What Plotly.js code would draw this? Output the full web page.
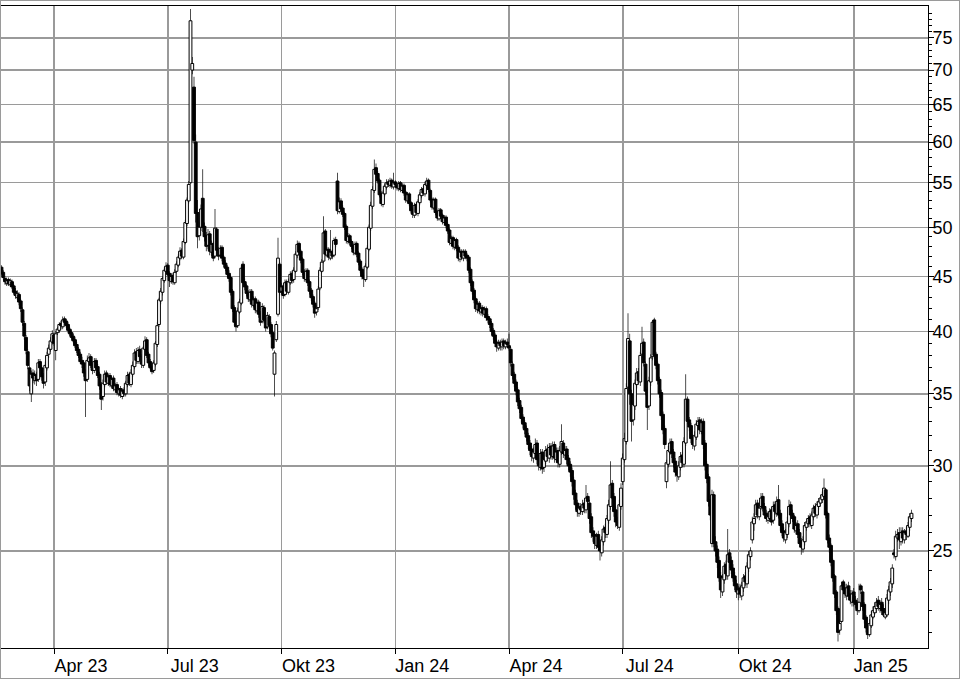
<!DOCTYPE html>
<html>
<head>
<meta charset="utf-8">
<script src="https://cdn.plot.ly/plotly-3.0.1.min.js"></script>
<style>
html,body{margin:0;padding:0;background:#fff;}
#frame{position:absolute;left:0;top:0;width:958px;height:677px;border:1px solid #9a9a9a;}
#chart{width:958px;height:677px;}
</style>
</head>
<body>
<div id="frame"><div id="chart"></div></div>
<script>
// first trading day of the series; one candle per weekday
const startDate = '2023-02-20';

const openP = [
45.9,45.4,44.8,44.3,44.7,44.2,44.5,44.1,43.6,43.0,
43.3,42.7,41.9,40.7,39.5,38.3,37.0,35.0,36.6,36.0,
36.5,36.1,37.5,37.0,36.4,35.9,37.0,38.1,38.5,39.1,
39.7,38.4,39.9,40.1,40.7,40.4,41.1,40.9,40.6,40.2,
39.9,39.6,39.3,38.9,38.5,38.1,37.6,37.4,36.6,36.1,
37.5,37.9,37.3,36.8,37.6,37.1,36.5,35.7,34.8,35.7,
36.6,35.8,36.4,35.6,36.2,35.3,35.7,35.0,35.4,34.8,
35.3,35.0,35.7,36.5,35.7,36.5,37.1,38.3,37.5,38.5,
37.9,37.2,38.5,39.3,38.1,37.5,37.1,36.8,37.3,38.9,
40.6,42.7,43.5,44.6,45.5,46.1,45.3,44.5,45.1,44.4,
45.5,46.1,46.8,47.6,46.9,48.4,50.4,52.9,55.0,70.0,
67.5,60.0,51.6,49.1,50.0,53.2,50.1,49.1,48.1,49.3,
47.4,48.3,47.0,49.8,47.7,47.1,47.9,46.9,46.3,45.9,
45.3,44.9,43.6,42.1,40.9,40.5,41.7,42.5,46.2,44.5,
44.1,43.5,42.8,43.6,42.3,42.9,41.8,42.6,41.6,40.9,
42.1,41.1,40.4,41.3,40.6,39.9,36.5,39.3,41.5,46.2,
43.6,44.1,43.3,44.5,43.5,44.4,45.3,44.7,45.5,47.1,
48.3,47.5,46.7,45.5,44.7,45.6,44.5,43.7,43.1,42.5,
41.7,42.1,43.9,45.5,46.5,49.6,47.1,47.7,46.8,47.5,
47.1,48.7,55.2,51.7,52.9,52.1,51.5,50.1,48.5,49.1,
48.5,48.1,47.3,48.3,47.3,46.5,45.7,45.1,44.7,45.9,
47.7,49.9,52.3,54.1,56.8,56.1,55.3,53.7,52.5,53.7,
54.5,55.1,54.7,55.3,54.5,55.1,54.7,54.3,55.0,54.1,
54.7,53.9,52.9,53.7,52.7,51.9,51.3,52.5,51.5,52.7,
53.5,54.3,53.7,54.7,55.3,54.1,53.1,52.1,53.1,51.7,
50.9,51.9,51.3,50.5,51.1,50.3,49.7,48.3,48.9,47.9,
48.7,47.9,46.7,47.5,46.8,47.5,47.1,46.9,45.7,44.5,
43.7,42.9,41.9,42.5,41.7,42.1,41.5,42.0,41.3,41.1,
40.7,40.1,39.7,39.1,38.6,39.1,38.7,39.2,38.7,39.1,
38.8,38.5,37.3,36.5,35.9,35.3,34.5,34.0,33.3,32.9,
32.5,32.0,31.5,31.1,30.5,30.8,31.5,30.5,29.9,30.9,
29.9,30.3,31.1,30.5,31.3,30.6,31.4,30.4,31.0,30.1,
30.9,31.5,30.7,31.1,30.5,30.1,29.7,29.1,28.3,27.7,
27.1,27.5,27.2,27.7,27.3,28.1,27.7,26.9,26.1,25.9,
25.3,25.9,25.3,24.9,25.5,26.3,25.9,26.7,27.5,28.9,
28.1,27.3,26.7,26.3,27.5,29.0,30.4,31.6,35.5,39.2,
35.0,33.1,34.1,35.7,36.7,35.9,38.1,39.1,37.3,35.3,
34.1,35.9,37.9,41.0,38.1,37.3,36.1,35.1,33.5,32.5,
29.0,30.1,30.9,31.6,30.9,30.3,29.7,29.3,29.9,30.7,
30.1,31.5,34.6,33.1,32.7,31.9,31.3,31.9,32.7,33.1,
32.3,33.0,31.5,30.1,29.3,27.9,25.4,28.2,25.5,25.1,
24.5,23.7,22.9,23.5,24.3,23.7,24.9,24.5,24.1,23.7,
23.3,22.8,23.1,22.7,23.1,23.7,23.3,24.1,24.7,25.6,
26.5,26.9,27.7,26.9,27.5,28.1,27.5,27.1,26.7,26.8,
27.3,26.7,27.6,27.1,27.9,27.1,26.5,26.1,25.6,25.9,
26.5,27.6,27.1,26.9,26.1,26.5,26.0,25.5,25.1,25.5,
26.3,26.5,26.9,26.4,26.9,27.5,27.0,27.5,27.7,27.9,
28.1,28.5,27.1,25.7,25.3,24.5,23.7,22.9,22.1,21.1,
21.5,23.4,23.1,22.7,23.2,22.8,22.4,22.9,22.5,22.4,
22.0,23.2,22.9,22.3,21.7,21.3,20.9,21.3,21.7,21.9,
22.1,22.5,22.1,22.4,22.1,21.7,21.8,22.5,22.9,23.3,
24.9,24.7,25.7,26.0,25.5,26.1,25.6,26.1,25.8,26.3,
26.8
];

const highP = [
46.1,45.6,45.0,44.9,44.9,44.8,44.7,44.3,43.9,43.7,
43.5,42.9,42.1,40.9,39.7,38.5,37.2,36.8,36.9,36.8,
36.7,37.7,37.7,37.2,36.6,37.5,38.3,38.9,39.5,40.1,
39.9,40.0,40.4,40.8,40.9,41.3,41.3,41.1,40.8,40.4,
40.1,39.8,39.5,39.1,38.7,38.3,37.9,37.6,36.9,38.0,
38.2,38.1,37.5,37.8,37.8,37.3,36.7,35.9,36.1,36.8,
36.8,36.5,36.6,36.3,36.4,35.8,35.9,35.5,35.6,35.4,
35.5,36.0,36.7,36.7,36.9,37.5,38.5,38.6,38.7,38.8,
38.1,38.8,39.6,39.5,38.3,37.7,37.3,37.6,39.2,40.8,
43.0,43.9,45.0,45.9,46.4,46.3,45.5,45.3,45.3,45.7,
46.5,47.2,47.9,47.8,48.8,50.8,53.3,55.2,79.8,72.0,
69.0,61.0,53.0,50.6,52.5,56.6,50.5,49.5,49.8,49.6,
48.6,48.5,52.0,50.0,47.9,48.1,48.1,47.1,46.6,46.1,
45.6,45.1,43.8,42.3,41.1,42.1,42.9,46.1,46.5,44.8,
44.3,43.7,43.8,43.8,43.1,43.1,42.8,42.8,41.8,42.5,
42.3,41.3,41.7,41.5,40.8,40.1,38.4,40.9,48.9,46.4,
44.4,44.3,44.7,44.7,44.8,45.5,45.5,45.9,47.5,48.6,
48.5,47.7,46.9,45.7,45.8,45.8,44.7,43.9,43.3,42.7,
42.3,44.1,45.9,46.7,51.2,49.8,47.9,47.9,49.7,47.7,
48.9,49.0,56.2,53.3,53.2,52.4,51.7,50.3,49.4,49.3,
48.7,48.3,48.5,48.5,47.5,46.7,45.9,45.4,46.3,48.1,
50.3,52.8,54.6,57.8,57.3,56.4,55.5,54.0,54.1,54.9,
55.4,55.4,55.6,55.5,56.2,55.3,55.0,55.2,55.2,54.9,
54.9,54.1,53.9,53.9,52.9,52.1,52.7,52.7,53.1,53.9,
54.5,54.6,55.1,55.6,55.5,54.3,53.3,53.3,53.3,51.9,
52.1,52.1,51.5,51.3,51.3,50.5,49.9,49.1,49.1,48.9,
48.9,48.1,47.7,47.7,47.7,47.7,47.3,47.1,45.9,44.7,
43.9,43.1,42.7,42.7,42.3,42.3,42.2,42.2,41.5,41.3,
40.9,40.3,39.9,39.3,39.3,39.3,39.4,39.4,39.3,39.4,
39.8,38.7,37.5,36.7,36.1,35.5,34.7,34.2,33.5,33.1,
32.7,32.2,31.7,31.3,31.2,31.8,31.7,30.7,31.1,31.1,
30.7,31.3,31.4,31.5,31.5,31.6,31.6,31.2,31.2,31.3,
32.8,31.7,31.3,31.3,30.7,30.3,29.9,29.3,28.5,27.9,
27.7,27.7,27.9,27.9,28.8,28.3,27.9,27.1,26.3,26.1,
26.0,26.1,25.5,25.8,26.4,26.5,27.0,27.9,30.3,29.1,
28.3,27.5,26.9,27.9,28.9,30.8,32.2,35.8,41.6,39.8,
35.3,34.5,36.1,37.0,37.0,38.3,40.4,39.4,37.5,35.5,
36.3,38.1,41.0,41.2,38.3,37.5,36.3,35.3,33.7,32.7,
30.4,31.3,31.8,31.8,31.1,30.5,29.9,30.3,30.9,30.9,
31.9,36.5,34.8,33.3,32.9,32.1,32.3,33.1,33.3,33.3,
33.2,33.2,31.7,30.3,29.5,28.1,28.5,28.4,25.8,25.3,
24.7,23.9,23.8,24.4,24.5,26.2,25.1,24.7,24.3,23.9,
23.5,23.2,23.3,23.4,23.8,23.9,24.4,25.0,25.2,26.9,
27.1,27.9,27.9,27.6,28.3,28.3,27.7,27.3,27.2,27.4,
27.5,27.8,27.8,28.1,28.8,27.3,26.7,26.3,26.2,26.9,
27.9,27.8,27.3,27.0,26.6,26.7,26.2,25.7,25.8,26.6,
26.8,27.0,27.1,27.2,27.6,27.7,27.8,28.0,28.2,28.4,
29.2,28.6,27.2,25.9,25.4,24.6,23.8,23.0,22.2,21.6,
23.4,23.5,23.3,23.3,23.4,23.0,23.0,23.1,22.7,22.6,
23.3,23.3,23.0,22.4,21.8,21.4,21.6,22.0,22.2,22.4,
22.6,22.7,22.5,22.6,22.3,22.1,22.8,23.2,23.6,24.3,
25.1,26.1,26.2,26.3,26.3,26.3,26.2,26.3,26.6,27.1,
27.3
];

const lowP = [
45.1,44.7,44.2,44.1,44.1,44.0,43.8,43.3,42.9,42.8,
42.3,41.7,40.5,39.3,38.1,36.9,35.2,34.4,35.8,35.7,
35.6,35.9,36.8,36.0,35.4,35.6,36.8,37.8,38.3,38.9,
38.8,37.6,39.7,39.9,40.2,40.2,40.6,40.3,39.9,39.6,
39.3,39.0,38.6,38.2,37.8,37.3,37.0,36.3,33.3,35.9,
37.2,37.0,36.5,36.6,36.8,36.2,35.3,33.8,34.5,35.5,
35.7,35.6,35.5,35.4,35.2,35.1,34.9,34.8,34.7,34.6,
34.8,34.8,35.5,35.6,35.5,36.3,36.9,37.3,37.3,37.6,
37.0,37.0,38.3,37.8,37.1,36.8,36.5,36.6,37.1,38.7,
40.4,42.4,43.2,44.4,45.2,45.0,44.0,44.3,44.2,44.2,
45.3,45.9,46.6,46.7,46.7,48.2,50.1,52.6,54.8,69.4,
59.8,50.5,47.8,48.6,49.6,49.5,48.5,47.5,47.7,47.1,
47.0,46.5,46.8,47.3,46.6,46.8,46.5,45.9,45.5,44.9,
44.5,43.2,41.7,40.5,40.0,40.3,41.5,42.3,44.1,43.7,
43.1,42.6,42.6,42.1,42.1,41.6,41.6,41.2,40.5,40.7,
40.7,40.0,40.2,40.2,39.5,38.4,34.8,39.1,41.3,43.2,
43.3,42.9,43.1,43.3,43.3,44.2,44.3,44.4,45.3,46.8,
47.1,46.3,45.1,44.5,44.5,44.1,43.3,42.7,42.1,41.2,
41.4,41.9,43.7,45.3,46.3,47.0,46.9,46.6,46.6,46.7,
46.9,47.9,51.4,51.5,51.7,51.1,49.7,48.3,48.2,48.1,
47.7,47.1,47.1,46.9,46.1,45.3,44.7,44.0,44.5,45.7,
47.5,49.6,52.0,53.8,55.6,54.9,53.3,52.3,52.2,53.4,
54.2,54.5,54.4,54.3,54.2,54.5,54.1,54.0,53.9,53.8,
53.5,52.7,52.6,52.3,51.5,51.0,51.0,51.3,51.2,52.4,
53.2,53.5,53.4,54.4,53.9,52.7,51.9,51.9,51.3,50.7,
50.7,50.9,50.3,50.2,49.9,49.3,48.1,48.0,47.7,47.6,
47.5,46.5,46.4,46.6,46.5,46.7,46.5,45.3,44.1,43.3,
42.5,41.7,41.6,41.5,41.4,41.3,41.2,40.9,40.7,40.3,
39.7,39.3,38.7,38.3,38.4,38.4,38.4,38.5,38.5,38.6,
38.4,37.1,36.1,35.5,34.9,34.1,33.6,32.9,32.5,32.1,
31.6,31.1,30.7,30.3,30.2,30.5,30.1,29.7,29.7,29.5,
29.6,30.1,30.3,30.2,30.4,30.4,30.2,30.2,29.9,29.9,
30.7,30.5,30.4,30.1,29.7,29.3,28.7,27.9,27.3,26.9,
26.9,27.0,27.0,27.1,27.1,27.5,26.5,25.7,25.5,25.1,
25.1,25.0,24.5,24.7,25.3,25.7,25.7,26.5,27.3,27.7,
26.9,26.3,26.2,26.1,27.3,28.8,30.2,31.4,35.2,34.2,
31.6,32.7,33.8,35.4,35.7,35.6,37.8,37.1,34.9,32.4,
33.8,35.6,37.6,37.7,36.9,35.7,34.7,33.1,32.1,31.1,
28.6,29.9,30.7,30.5,29.9,29.3,29.0,29.1,29.7,29.9,
29.9,31.3,32.8,32.3,31.5,31.1,31.0,31.7,32.5,32.1,
32.1,31.1,29.7,28.9,27.5,26.7,25.2,25.2,24.7,24.1,
23.4,22.6,22.7,23.3,23.5,23.5,24.1,23.8,23.4,23.0,
22.6,22.5,22.6,22.5,22.9,23.2,23.1,23.9,24.5,25.4,
26.1,26.7,26.8,26.7,27.3,27.2,26.8,26.6,26.5,26.6,
26.4,26.5,27.0,26.9,26.8,26.1,25.8,25.5,25.4,25.7,
26.3,26.8,26.6,26.0,25.9,25.7,25.2,24.8,24.9,25.3,
26.1,26.3,26.3,26.2,26.7,26.9,26.8,27.3,27.5,27.7,
27.9,26.8,25.4,24.9,24.2,23.4,22.6,21.8,20.6,20.9,
21.4,22.8,22.6,22.5,22.5,22.3,22.2,22.2,22.1,21.8,
21.9,22.8,22.0,21.4,21.0,20.7,20.8,21.2,21.6,21.8,
21.9,22.0,21.9,21.8,21.7,21.6,21.7,22.3,22.7,23.1,
24.6,24.5,25.5,25.1,25.3,25.4,25.4,25.6,25.7,26.1,
26.6
];

const closeP = [
45.3,44.9,44.5,44.6,44.3,44.6,44.0,43.5,43.2,43.4,
42.6,42.0,40.8,39.6,38.4,37.2,35.6,36.5,36.2,36.4,
36.0,37.4,37.0,36.3,35.8,37.2,38.0,38.6,39.2,39.8,
39.0,39.8,40.2,40.6,40.5,41.0,40.8,40.5,40.1,39.8,
39.5,39.2,38.8,38.4,38.0,37.5,37.3,36.6,36.0,37.6,
37.8,37.2,36.8,37.5,37.0,36.4,35.6,34.6,35.8,36.5,
35.9,36.3,35.7,36.1,35.4,35.6,35.1,35.3,34.9,35.2,
35.0,35.8,36.4,35.8,36.6,37.2,38.2,37.6,38.4,37.9,
37.3,38.6,39.2,38.0,37.4,37.0,36.7,37.4,39.0,40.5,
42.8,43.6,44.8,45.6,46.0,45.2,44.6,45.0,44.5,45.4,
46.2,46.9,47.5,47.0,48.5,50.5,53.0,54.8,77.8,71.0,
60.2,51.5,49.0,50.0,52.0,50.0,49.0,48.0,49.2,47.5,
48.2,46.8,49.9,47.6,47.0,47.8,46.8,46.2,45.8,45.2,
44.8,43.5,42.0,40.8,40.4,41.8,42.6,45.8,44.4,44.0,
43.4,42.9,43.5,42.4,42.8,41.9,42.5,41.5,40.8,42.2,
41.0,40.3,41.4,40.5,39.8,38.6,38.2,40.6,46.8,43.5,
44.0,43.2,44.4,43.6,44.5,45.2,44.6,45.6,47.2,48.2,
47.4,46.6,45.4,44.8,45.5,44.4,43.6,43.0,42.4,41.6,
42.0,43.8,45.6,46.4,49.4,47.2,47.6,46.9,47.4,47.0,
48.6,48.2,51.8,52.8,52.0,51.4,50.0,48.6,49.0,48.4,
48.0,47.4,48.2,47.2,46.4,45.6,45.0,44.8,46.0,47.8,
50.0,52.4,54.2,56.6,56.0,55.2,53.6,52.6,53.8,54.6,
55.0,54.8,55.2,54.6,55.0,54.8,54.4,54.9,54.2,54.6,
53.8,53.0,53.6,52.6,51.8,51.4,52.4,51.6,52.8,53.6,
54.2,53.8,54.8,55.2,54.2,53.0,52.2,53.0,51.6,51.0,
51.8,51.2,50.6,51.0,50.2,49.6,48.4,48.8,48.0,48.6,
47.8,46.8,47.4,46.9,47.4,47.0,46.8,45.6,44.4,43.6,
42.8,42.0,42.4,41.8,42.0,41.6,41.9,41.2,41.0,40.6,
40.0,39.6,39.0,38.7,39.0,38.8,39.1,38.8,39.0,38.9,
38.6,37.4,36.4,35.8,35.2,34.4,33.9,33.2,32.8,32.4,
31.9,31.4,31.0,30.6,30.9,31.4,30.4,30.0,30.8,29.8,
30.4,31.0,30.6,31.2,30.7,31.3,30.5,30.9,30.2,31.0,
31.6,30.8,31.0,30.4,30.0,29.6,29.0,28.2,27.6,27.2,
27.4,27.3,27.6,27.4,28.0,27.8,26.8,26.0,25.8,25.4,
25.8,25.2,25.0,25.6,26.2,26.0,26.8,27.6,28.8,28.0,
27.2,26.6,26.4,27.6,28.6,30.5,31.8,35.4,39.4,35.0,
33.0,34.2,35.8,36.6,36.0,38.0,39.0,37.4,35.2,34.0,
36.0,37.8,40.8,38.0,37.2,36.0,35.0,33.4,32.4,31.4,
30.2,31.0,31.5,30.8,30.2,29.6,29.4,30.0,30.6,30.2,
31.6,34.6,33.0,32.6,31.8,31.4,32.0,32.8,33.0,32.4,
32.9,31.4,30.0,29.2,27.8,27.0,28.2,25.4,25.0,24.4,
23.6,23.0,23.6,24.2,23.8,24.8,24.4,24.0,23.6,23.2,
22.9,23.0,22.8,23.2,23.6,23.4,24.2,24.8,25.0,26.6,
26.8,27.6,27.0,27.4,28.0,27.4,27.0,26.8,26.9,27.2,
26.6,27.5,27.2,27.8,27.0,26.4,26.0,25.7,26.0,26.6,
27.5,27.0,26.8,26.2,26.4,25.9,25.4,25.2,25.6,26.4,
26.6,26.8,26.5,27.0,27.4,27.1,27.6,27.8,28.0,28.2,
28.6,27.0,25.6,25.2,24.4,23.6,22.8,22.0,21.0,21.4,
23.2,23.0,22.8,23.1,22.7,22.5,22.8,22.4,22.3,22.0,
22.4,23.0,22.2,21.6,21.2,20.9,21.4,21.8,22.0,22.2,
22.4,22.2,22.3,22.0,21.8,21.9,22.6,23.0,23.4,24.1,
24.8,25.8,25.9,25.6,26.0,25.7,26.0,25.9,26.4,26.9,
27.1
];

const xTickDates = ['2023-04-03','2023-07-03','2023-10-02','2024-01-01','2024-04-01','2024-07-01','2024-10-01','2025-01-01'];
const xTickText = ['Apr 23','Jul 23','Okt 23','Jan 24','Apr 24','Jul 24','Okt 24','Jan 25'];
const yTickVals = [25,30,35,40,45,50,55,60,65,70,75];
const yTickText = ['25','30','35','40','45','50','55','60','65','70','75'];

// trading-day dates (weekdays), one per candle
function pad(n){return (n<10?'0':'')+n;}
const dates = [];
(function(){
  const d = new Date(startDate + 'T00:00:00Z');
  while (dates.length < closeP.length) {
    const wd = d.getUTCDay();
    if (wd !== 0 && wd !== 6) dates.push(d.getUTCFullYear()+'-'+pad(d.getUTCMonth()+1)+'-'+pad(d.getUTCDate()));
    d.setUTCDate(d.getUTCDate()+1);
  }
})();
// the chart plots trading days without gaps: x position = trading-day number
const xIdx = dates.map((d, i) => i);
const xTickVals = xTickDates.map(d => dates.indexOf(d));

// tables the bar traces need (wicks and bodies), built from the OHLC arrays
const wickBase = lowP.slice();
const wickLen = highP.map((h, i) => Math.max(h - lowP[i], 0.02));
const bodyBase = openP.map((o, i) => Math.min(o, closeP[i]));
const bodyLen = openP.map((o, i) => Math.max(Math.abs(closeP[i] - o), 0.04));
const bodyFill = openP.map((o, i) => closeP[i] >= o ? '#ffffff' : '#000000');
const hoverText = dates.map((d, i) => d + '<br>O ' + openP[i] + ' H ' + highP[i] + ' L ' + lowP[i] + ' C ' + closeP[i]);

const minorVals = [];
for (let v = 21; v <= 80; v++) if (v % 5 !== 0) minorVals.push(v);

const wicks = {
  type: 'bar', x: xIdx, base: wickBase, y: wickLen, width: 0.4,
  marker: {color: '#000000', line: {width: 0}},
  hoverinfo: 'skip', showlegend: false
};
const bodies = {
  type: 'bar', x: xIdx, base: bodyBase, y: bodyLen, width: 1.6,
  marker: {color: bodyFill, line: {color: '#000000', width: 1}},
  text: hoverText, hoverinfo: 'text', textposition: 'none', showlegend: false
};

const layout = {
  width: 958, height: 677,
  margin: {l: 0, r: 31, t: 5, b: 30, pad: 0},
  paper_bgcolor: '#fff', plot_bgcolor: '#fff',
  font: {family: 'Liberation Sans, Arial, sans-serif', size: 18, color: '#000'},
  barmode: 'overlay',
  xaxis: {
    type: 'linear',
    range: [-0.286, 529.43],
    tickmode: 'array', tickvals: xTickVals, ticktext: xTickText,
    ticks: 'outside', ticklen: 5, tickcolor: '#000', tickwidth: 1,
    ticklabelshift: 27, ticklabelstandoff: -4,
    showgrid: true, gridcolor: '#9a9a9a', gridwidth: 1.5,
    showline: true, linecolor: '#000', linewidth: 1, mirror: true,
    zeroline: false, fixedrange: true
  },
  yaxis: {
    type: 'log', side: 'right',
    range: [Math.log10(20.31), Math.log10(80.3)],
    tickmode: 'array', tickvals: yTickVals, ticktext: yTickText,
    ticks: 'outside', ticklen: 5, tickcolor: '#000', tickwidth: 1,
    ticklabelstandoff: -5,
    minor: {tickmode: 'array', tickvals: minorVals, ticks: 'outside', ticklen: 3, tickcolor: '#000', showgrid: false},
    showgrid: true, gridcolor: '#9a9a9a', gridwidth: 1.5,
    showline: true, linecolor: '#000', linewidth: 1,
    zeroline: false, fixedrange: true
  }
};

Plotly.newPlot('chart', [wicks, bodies], layout, {staticPlot: true, displayModeBar: false});
</script>
</body>
</html>
